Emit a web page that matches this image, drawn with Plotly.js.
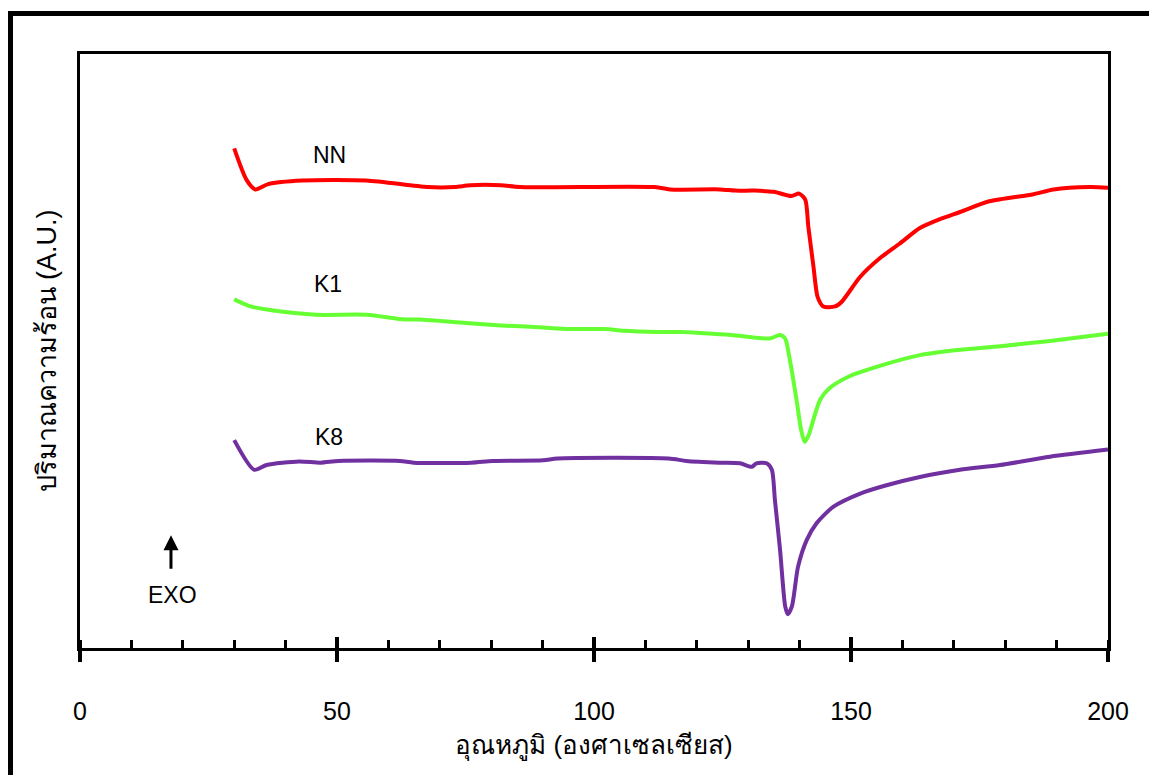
<!DOCTYPE html>
<html>
<head>
<meta charset="utf-8">
<script src="https://cdn.plot.ly/plotly-3.0.1.min.js"></script>
<style>
  html, body { margin: 0; padding: 0; background: #fff; }
  #chart { width: 1149px; height: 775px; }
  #frame {
    position: absolute; left: 8px; top: 11px; right: 0; bottom: 0;
    border-left: 5px solid #000; border-top: 5px solid #000;
    pointer-events: none;
  }
</style>
</head>
<body>
<div id="chart"></div>
<div id="frame"></div>
<script>
// DSC heating curves, temperature (°C) vs heat flow (arbitrary units, offset per sample)
const nnTemp = [30, 32.4, 34.1, 36.6, 43.3, 55.7, 67.6, 72.9, 75.9, 81.9, 85.6, 111.8, 114.8, 124.5, 127.5, 131.3, 135, 138.4, 139.9, 141.1, 141.7, 142.7, 143.5, 144.6, 146.9, 148.2, 151.8, 155.6, 159.5, 163.4, 167.3, 171.2, 176.9, 185.5, 189.4, 196.5, 200];
const nnHeat = [84.1, 78.8, 77.2, 78.1, 78.7, 78.7, 77.6, 77.6, 77.9, 77.9, 77.6, 77.6, 77.2, 77.2, 77.0, 77.0, 76.8, 76.1, 76.5, 75.5, 70.9, 64.2, 59.1, 57.5, 57.5, 58.3, 62.5, 65.6, 68.1, 70.7, 72.2, 73.4, 75.2, 76.4, 77.2, 77.6, 77.5];

const k1Temp = [30, 33.2, 37.0, 46.0, 55.7, 63.2, 66.1, 75.1, 81.9, 89.3, 95.3, 102.1, 105.8, 112.5, 117.0, 121.5, 126.7, 134.2, 136.2, 137.2, 138.1, 139.4, 140.3, 141.0, 141.8, 142.3, 144.0, 145.9, 149.8, 155.6, 163.4, 171.2, 179.0, 188.7, 200];
const k1Heat = [58.7, 57.5, 56.9, 56.1, 56.1, 55.3, 55.3, 54.7, 54.3, 54.0, 53.7, 53.7, 53.4, 53.2, 53.2, 53.0, 52.7, 52.1, 52.7, 52.1, 48.5, 41.8, 36.7, 34.7, 35.9, 37.3, 41.8, 43.8, 45.8, 47.5, 49.3, 50.2, 50.8, 51.7, 52.9];

const k8Temp = [30, 33.9, 36.3, 42.6, 46.8, 50.3, 62.2, 64.9, 76.1, 80.3, 90.1, 92.9, 114.5, 118.0, 124.5, 128.4, 130.7, 131.6, 133.6, 134.6, 135.2, 136.2, 137.2, 137.7, 138.5, 139.7, 141.4, 143.3, 146.6, 151.8, 156.9, 163.4, 171.2, 179.0, 188.7, 200];
const k8Heat = [35.0, 30.0, 30.8, 31.4, 31.2, 31.5, 31.5, 31.2, 31.2, 31.5, 31.6, 31.9, 31.9, 31.5, 31.2, 31.1, 30.5, 31.1, 31.1, 30.0, 24.9, 16.5, 7.0, 5.7, 7.0, 13.7, 18.2, 21.0, 23.8, 26.0, 27.4, 28.8, 30.0, 30.8, 32.2, 33.4];

const seriesNames = ['NN', 'K1', 'K8'];
const seriesColors = ['#ff0000', '#66ff33', '#7030a0'];
const xTickVals = [0, 50, 100, 150, 200];
const xTickText = ['0', '50', '100', '150', '200'];

const FONT = 'Arial, "Liberation Sans", "DejaVu Sans", "Noto Sans", sans-serif';

const temps = [nnTemp, k1Temp, k8Temp];
const heats = [nnHeat, k1Heat, k8Heat];

const traces = seriesNames.map((name, i) => ({
  type: 'scatter',
  mode: 'lines',
  name: name,
  x: temps[i],
  y: heats[i],
  line: { color: seriesColors[i], width: 4, shape: 'spline', smoothing: 0.7 },
  hoverinfo: 'x+y+name'
}));

// empty trace that carries the inward half of the major ticks
traces.push({ type: 'scatter', mode: 'lines', x: [0, 200], y: [null, null], xaxis: 'x2', showlegend: false, hoverinfo: 'skip' });

const layout = {
  width: 1149,
  height: 775,
  margin: { l: 80, r: 41, t: 54, b: 127 },
  paper_bgcolor: '#ffffff',
  plot_bgcolor: '#ffffff',
  showlegend: false,
  font: { family: FONT, color: '#000', size: 22 },
  xaxis: {
    range: [0, 200],
    tickvals: xTickVals,
    ticktext: xTickText,
    ticks: 'outside',
    ticklen: 11,
    tickwidth: 4,
    tickcolor: '#000',
    ticklabelstandoff: 28,
    tickfont: { family: FONT, size: 25, color: '#000' },
    minor: { dtick: 10, ticks: 'inside', ticklen: 8, tickwidth: 3, tickcolor: '#000', showgrid: false },
    showline: true,
    linewidth: 3,
    linecolor: '#000',
    mirror: true,
    showgrid: false,
    zeroline: false,
    title: { text: 'อุณหภูมิ (องศาเซลเซียส)', font: { family: FONT, size: 26, color: '#000' }, standoff: 12 }
  },
  xaxis2: {
    overlaying: 'x',
    matches: 'x',
    anchor: 'y',
    side: 'bottom',
    tickvals: xTickVals,
    ticks: 'inside',
    ticklen: 11,
    tickwidth: 4,
    tickcolor: '#000',
    showticklabels: false,
    showline: false,
    showgrid: false,
    zeroline: false
  },
  yaxis: {
    range: [0, 100],
    showticklabels: false,
    ticks: '',
    showline: true,
    linewidth: 3,
    linecolor: '#000',
    mirror: true,
    showgrid: false,
    zeroline: false,
    title: { text: 'ปริมาณความร้อน (A.U.)', font: { family: FONT, size: 27, color: '#000' }, standoff: 13 }
  },
  annotations: [
    { x: 48.6, y: 83.0, text: 'NN', showarrow: false, font: { family: FONT, size: 23, color: '#000' } },
    { x: 48.2, y: 61.3, text: 'K1', showarrow: false, font: { family: FONT, size: 23, color: '#000' } },
    { x: 48.4, y: 35.5, text: 'K8', showarrow: false, font: { family: FONT, size: 23, color: '#000' } },
    { x: 17.9, y: 8.9, text: 'EXO', showarrow: false, font: { family: FONT, size: 23, color: '#000' } },
    {
      x: 17.7, y: 19.0, ax: 17.7, ay: 13.1, axref: 'x', ayref: 'y',
      text: '', showarrow: true, arrowhead: 2, arrowsize: 1, arrowwidth: 3, arrowcolor: '#000'
    }
  ]
};

Plotly.newPlot('chart', traces, layout, { displayModeBar: false, staticPlot: true });
</script>
</body>
</html>
